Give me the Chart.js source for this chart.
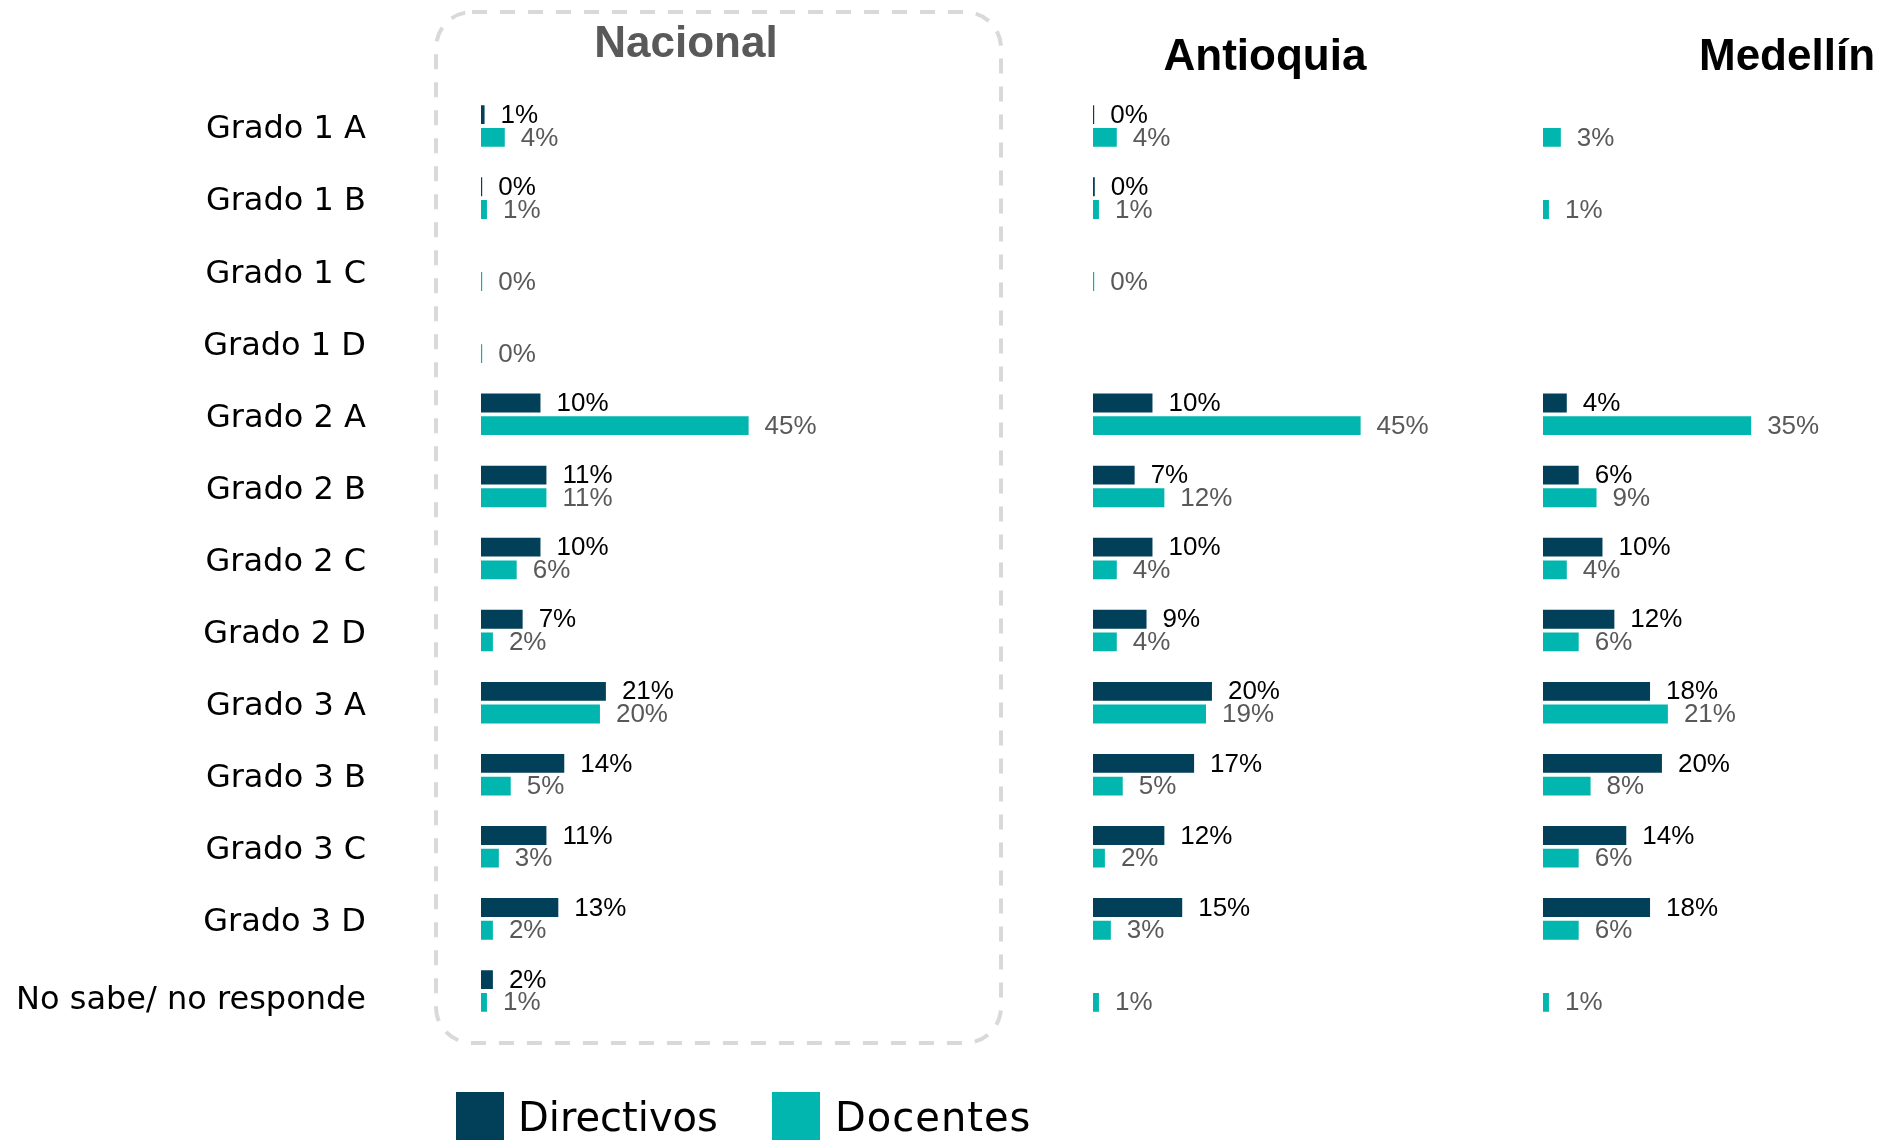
<!DOCTYPE html>
<html>
<head>
<meta charset="utf-8">
<script src="https://cdn.jsdelivr.net/npm/chart.js@4.4.1/dist/chart.umd.min.js"></script>
<style>
  html, body { margin:0; padding:0; background:#ffffff; }
  body { width:1882px; height:1140px; position:relative; overflow:hidden; }
  canvas { position:absolute; top:0; }
  .title { position:absolute; width:400px; text-align:center; font-family:"Liberation Sans", Arial, sans-serif; font-weight:bold; font-size:44px; line-height:50px; white-space:nowrap; }
  .lg-box { position:absolute; width:48px; height:48px; }
  .lg-text { position:absolute; font-family:"DejaVu Sans", sans-serif; font-size:40px; line-height:48px; color:#000; white-space:nowrap; }
  svg { position:absolute; left:0; top:0; }
</style>
</head>
<body>
<svg width="1882" height="1140">
  <rect x="436" y="12" width="565" height="1031" rx="36" ry="36" fill="none" stroke="#d9d9d9" stroke-width="4" stroke-dasharray="15 13"></rect>
</svg>
<canvas id="c1" width="1001" height="1140" style="left:0px"></canvas>
<canvas id="c2" width="440" height="1140" style="left:1001px"></canvas>
<canvas id="c3" width="441" height="1140" style="left:1441px"></canvas>

<div class="title" style="left:486px; top:17px; color:#595959;">Nacional</div>
<div class="title" style="left:1065px; top:30px; color:#000;">Antioquia</div>
<div class="title" style="left:1587px; top:30px; color:#000;">Medellín</div>

<div class="lg-box" style="left:456px; top:1092px; background:#023F59;"></div>
<div class="lg-text" style="left:518px; top:1093px;">Directivos</div>
<div class="lg-box" style="left:772px; top:1092px; background:#00B6AE;"></div>
<div class="lg-text" style="left:835px; top:1093px; letter-spacing:1px;">Docentes</div>

<script>
const categories = ['Grado 1 A','Grado 1 B','Grado 1 C','Grado 1 D','Grado 2 A','Grado 2 B','Grado 2 C','Grado 2 D','Grado 3 A','Grado 3 B','Grado 3 C','Grado 3 D','No sabe/ no responde'];

const nacionalDirectivos  = [0.6, 0.2, null, null, 10, 11, 10, 7, 21, 14, 11, 13, 2];
const nacionalDocentes    = [4, 1, 0.2, 0.2, 45, 11, 6, 2, 20, 5, 3, 2, 1];
const antioquiaDirectivos = [0.2, 0.3, null, null, 10, 7, 10, 9, 20, 17, 12, 15, null];
const antioquiaDocentes   = [4, 1, 0.2, null, 45, 12, 4, 4, 19, 5, 2, 3, 1];
const medellinDirectivos  = [null, null, null, null, 4, 6, 10, 12, 18, 20, 14, 18, null];
const medellinDocentes    = [3, 1, null, null, 35, 9, 4, 6, 21, 8, 6, 6, 1];

const seriesNames = ['Directivos', 'Docentes'];
const seriesColors = ['#023F59', '#00B6AE'];
const labelColors = ['#000000', '#595959'];
const xMax = 50;

const valueLabels = {
  id: 'valueLabels',
  afterDatasetsDraw(chart) {
    const ctx = chart.ctx;
    ctx.save();
    ctx.font = '26px "Liberation Sans", Arial, sans-serif';
    ctx.textAlign = 'left';
    ctx.textBaseline = 'middle';
    chart.data.datasets.forEach((ds, di) => {
      const meta = chart.getDatasetMeta(di);
      meta.data.forEach((bar, i) => {
        const v = ds.data[i];
        if (v === null || v === undefined) return;
        ctx.fillStyle = labelColors[di];
        ctx.fillText(Math.round(v) + '%', bar.x + 16, bar.y + 1);
      });
    });
    ctx.restore();
  }
};

// category labels for the first panel, positioned by the y scale
const categoryLabels = {
  id: 'categoryLabels',
  afterDraw(chart, args, opts) {
    if (!opts.show) return;
    const ctx = chart.ctx;
    const y = chart.scales.y;
    ctx.save();
    ctx.font = '32px "DejaVu Sans", sans-serif';
    ctx.fillStyle = '#000';
    ctx.textAlign = 'right';
    ctx.textBaseline = 'middle';
    chart.data.labels.forEach((lab, i) => {
      const extra = (i === chart.data.labels.length - 1) ? 10 : 4;
      ctx.fillText(lab, 366, y.getPixelForValue(i) + extra);
    });
    ctx.restore();
  }
};

function makeChart(id, dir, doc, showY, padding) {
  return new Chart(document.getElementById(id), {
    type: 'bar',
    data: {
      labels: categories,
      datasets: [
        { label: seriesNames[0], data: dir, backgroundColor: seriesColors[0], categoryPercentage: 0.63, barPercentage: 0.83 },
        { label: seriesNames[1], data: doc, backgroundColor: seriesColors[1], categoryPercentage: 0.63, barPercentage: 0.83 }
      ]
    },
    options: {
      indexAxis: 'y',
      responsive: false,
      animation: false,
      layout: { padding: padding },
      plugins: {
        legend: { display: false }, tooltip: { enabled: false }, title: { display: false },
        categoryLabels: { show: showY }
      },
      scales: {
        x: { display: false, min: 0, max: xMax },
        y: { display: false }
      }
    },
    plugins: [valueLabels, categoryLabels]
  });
}

makeChart('c1', nacionalDirectivos, nacionalDocentes, true, { top: 90, bottom: 113, left: 481, right: 1001 - 481 - 297.35 });
makeChart('c2', antioquiaDirectivos, antioquiaDocentes, false, { top: 90, bottom: 113, left: 92, right: 440 - 92 - 297.35 });
makeChart('c3', medellinDirectivos, medellinDocentes, false, { top: 90, bottom: 113, left: 102, right: 441 - 102 - 297.35 });
</script>
</body>
</html>
